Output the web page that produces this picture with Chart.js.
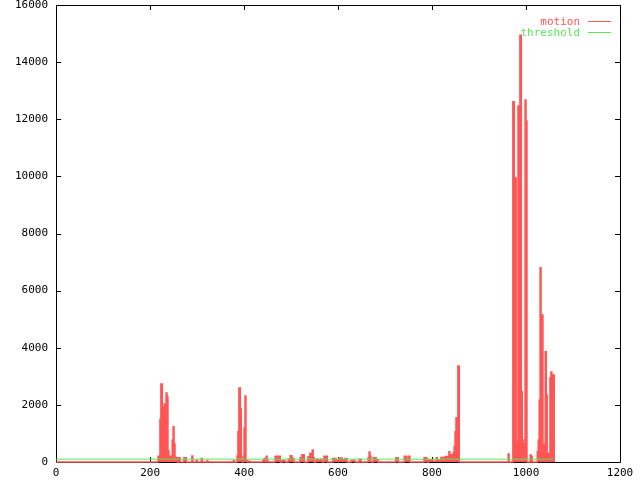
<!DOCTYPE html>
<html>
<head>
<meta charset="utf-8">
<script src="https://cdn.jsdelivr.net/npm/chart.js@4/dist/chart.umd.min.js"></script>
<style>
  body { margin: 0; background: #fff; }
  canvas { display: block; }
</style>
</head>
<body>
<canvas id="motionChart" width="640" height="480"></canvas>
<script>
const seriesNames = ['motion', 'threshold'];

// step positions of the motion trace and the value that holds from each one
const motionX = [0, 217, 221, 223, 226, 228, 230, 232, 234, 236, 238, 240, 247, 249, 251, 253, 255, 258, 260, 264,
  272, 277, 289, 291, 298, 300, 309, 311, 321, 323, 377, 379, 385, 387, 389, 392, 394, 396, 398, 400, 402, 404, 406,
  409, 413, 440, 443, 445, 447, 449, 451, 466, 477, 481, 487, 494, 498, 502, 506, 519, 523, 528, 536, 540, 545, 547,
  549, 553, 558, 562, 566, 570, 577, 589, 596, 602, 609, 615, 619, 628, 636, 645, 649, 664, 666, 668, 670, 675, 681,
  685, 723, 728, 741, 745, 749, 753, 783, 789, 792, 802, 809, 811, 819, 828, 836, 838, 845, 847, 849, 851, 853, 855,
  858, 962, 964, 972, 975, 977, 979, 981, 983, 985, 987, 990, 992, 994, 996, 998, 1000, 1002, 1009, 1011, 1013, 1024,
  1026, 1028, 1030, 1032, 1034, 1036, 1038, 1041, 1043, 1045, 1047, 1049, 1051, 1053, 1055, 1060];
const motionY = [0, 200, 1500, 2730, 1900, 1365, 2030, 560, 2415, 2280, 395, 200, 770, 1235, 630, 170, 150, 0, 150, 0,
  150, 0, 210, 0, 60, 0, 120, 0, 40, 0, 50, 0, 210, 1060, 2590, 1855, 70, 0, 200, 1190, 2310, 70, 0,
  30, 0, 60, 120, 0, 200, 60, 0, 200, 0, 50, 0, 100, 220, 120, 0, 150, 250, 0, 180, 300, 420, 150,
  0, 100, 40, 100, 0, 200, 0, 120, 60, 140, 80, 120, 0, 50, 0, 100, 0, 150, 350, 200, 0, 150, 80,
  0, 150, 0, 200, 120, 200, 0, 150, 0, 70, 30, 150, 60, 160, 190, 360, 250, 320, 540, 1060, 1550, 1480, 3360,
  0, 280, 0, 12610, 8190, 9940, 650, 720, 12460, 3330, 14945, 2460, 770, 245, 650, 12670, 11935, 0, 245, 190, 0, 360,
  770, 2170, 6800, 3550, 5150, 620, 550, 3860, 2350, 300, 300, 150, 2950, 3150, 3050, 0];

const thresholdX = [0, 1058];
const thresholdY = [100, 100];

const xTicks = [0, 200, 400, 600, 800, 1000, 1200];
const yTicks = [0, 2000, 4000, 6000, 8000, 10000, 12000, 14000, 16000];

const red = 'rgb(255, 85, 85)';
const green = 'rgb(90, 230, 90)';
const monoFont = { family: 'DejaVu Sans Mono', size: 11, lineHeight: 1 };

// gnuplot-like frame with inward ticks on all four sides
const framePlugin = {
  id: 'frame',
  beforeDatasetsDraw(chart) {
    const { ctx, chartArea: a, scales } = chart;
    ctx.save();
    ctx.strokeStyle = '#000';
    ctx.lineWidth = 1;
    ctx.beginPath();
    ctx.rect(Math.round(a.left) + 0.5, Math.round(a.top) + 0.5,
      Math.round(a.right - a.left), Math.round(a.bottom - a.top));
    xTicks.forEach(v => {
      const x = Math.round(scales.x.getPixelForValue(v)) + 0.5;
      ctx.moveTo(x, a.bottom); ctx.lineTo(x, a.bottom - 5);
      ctx.moveTo(x, a.top); ctx.lineTo(x, a.top + 5);
    });
    yTicks.forEach(v => {
      const y = Math.round(scales.y.getPixelForValue(v)) + 0.5;
      ctx.moveTo(a.left, y); ctx.lineTo(a.left + 5, y);
      ctx.moveTo(a.right, y); ctx.lineTo(a.right - 5, y);
    });
    ctx.stroke();
    ctx.restore();
  },
  afterDraw(chart) {
    const { ctx } = chart;
    const colors = [red, green];
    ctx.save();
    ctx.font = '11px "DejaVu Sans Mono"';
    ctx.textAlign = 'right';
    ctx.textBaseline = 'middle';
    seriesNames.forEach((name, i) => {
      const y = 21 + i * 11;
      ctx.fillStyle = colors[i];
      ctx.fillText(name, 580, y + 1);
      ctx.strokeStyle = colors[i];
      ctx.beginPath();
      ctx.moveTo(588, y + 0.5);
      ctx.lineTo(611, y + 0.5);
      ctx.stroke();
    });
    ctx.restore();
  }
};

const noEdgePadding = s => {
  s.paddingTop = 0;
  s.paddingBottom = 0;
  s.paddingLeft = 0;
  s.paddingRight = 0;
};

new Chart(document.getElementById('motionChart'), {
  type: 'line',
  data: {
    datasets: [{
      label: seriesNames[0],
      data: motionX.map((x, i) => ({ x, y: motionY[i] })),
      borderColor: red,
      backgroundColor: red,
      borderWidth: 1.5,
      pointRadius: 0,
      stepped: 'before',
      fill: 'origin',
      clip: false,
      order: 1
    }, {
      label: seriesNames[1],
      data: thresholdX.map((x, i) => ({ x, y: thresholdY[i] })),
      borderColor: green,
      borderWidth: 1,
      pointRadius: 0,
      fill: false,
      order: 0
    }]
  },
  options: {
    responsive: false,
    animation: false,
    devicePixelRatio: 1,
    layout: { padding: { left: 7, right: 20, top: 5, bottom: 1 } },
    plugins: { legend: { display: false }, tooltip: { enabled: false } },
    scales: {
      x: {
        type: 'linear',
        min: 0,
        max: 1200,
        afterBuildTicks: s => { s.ticks = xTicks.map(value => ({ value })); },
        afterFit: s => { noEdgePadding(s); s.height = 17; },
        grid: { display: false, drawTicks: false },
        border: { display: false },
        ticks: { color: '#000', font: monoFont, padding: 6, maxRotation: 0, callback: v => String(v) }
      },
      y: {
        min: 0,
        max: 16000,
        afterBuildTicks: s => { s.ticks = yTicks.map(value => ({ value })); },
        afterFit: noEdgePadding,
        grid: { display: false, drawTicks: false },
        border: { display: false },
        ticks: { color: '#000', font: monoFont, padding: 8, callback: v => String(v) }
      }
    }
  },
  plugins: [framePlugin]
});
</script>
</body>
</html>
